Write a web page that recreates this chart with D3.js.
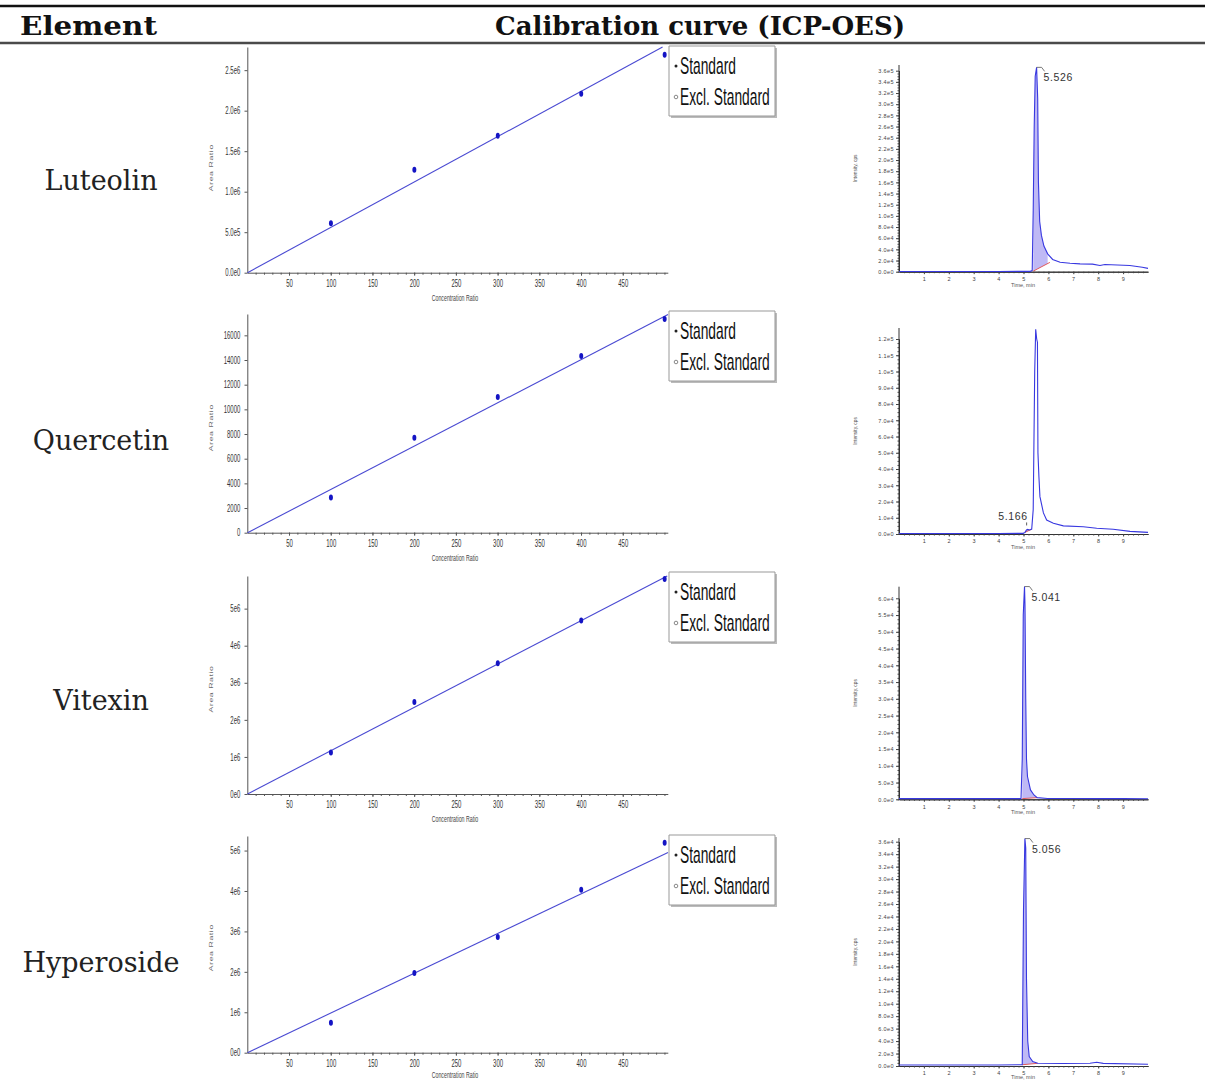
<!DOCTYPE html>
<html>
<head>
<meta charset="utf-8">
<script src="https://cdn.jsdelivr.net/npm/d3@7"></script>
<style>
  body { margin: 0; background: #fff; }
  svg { display: block; }
</style>
</head>
<body>
<svg id="fig" width="1205" height="1081"></svg>
<script>
// ---------------- data ----------------
const compounds = ["Luteolin", "Quercetin", "Vitexin", "Hyperoside"];

// calibration standards
const concentration = [100, 200, 300, 400, 500];
const luteolinArea   = [6.1e5, 1.27e6, 1.69e6, 2.21e6, 2.69e6];
const quercetinArea  = [2850, 7700, 11000, 14330, 17330];
const vitexinArea    = [1.12e6, 2.48e6, 3.53e6, 4.68e6, 5.80e6];
const hyperosideArea = [7.4e5, 1.97e6, 2.86e6, 4.03e6, 5.19e6];
const calibrationAreas = [luteolinArea, quercetinArea, vitexinArea, hyperosideArea];

// slope of each fitted calibration line (through the origin)
const fitSlopes = [5600, 35.1, 11690, 9830];

// calibration axis ticks
const calXTicks = [50, 100, 150, 200, 250, 300, 350, 400, 450];
const luteolinYTicks   = [0, 5e5, 1e6, 1.5e6, 2e6, 2.5e6];
const quercetinYTicks  = [0, 2000, 4000, 6000, 8000, 10000, 12000, 14000, 16000];
const vitexinYTicks    = [0, 1e6, 2e6, 3e6, 4e6, 5e6];
const hyperosideYTicks = [0, 1e6, 2e6, 3e6, 4e6, 5e6];
const calYTicks = [luteolinYTicks, quercetinYTicks, vitexinYTicks, hyperosideYTicks];
const calYFormats = [".1e", "d", ".0e", ".0e"];
const calYMax = [2.786e6, 17730, 5.88e6, 5.36e6];
const calXMax = 504;

const legendLabels = ["Standard", "Excl. Standard"];

// chromatograms: time (min) and intensity (cps)
const luteolinTime = [0, 2, 4, 5.27, 5.35, 5.39, 5.43, 5.47, 5.526, 5.57, 5.6, 5.65, 5.72, 5.82, 5.97, 6.17, 6.47, 6.87, 7.27, 7.77, 8.07, 8.27, 8.77, 9.27, 9.77, 10];
const luteolinCps  = [300, 300, 400, 600, 2000, 1.1e5, 2.6e5, 3.5e5, 3.66e5, 3.1e5, 1.6e5, 9e4, 6.5e4, 4.6e4, 3.2e4, 2.2e4, 1.7e4, 1.5e4, 1.4e4, 1.35e4, 1.1e4, 1.3e4, 1.2e4, 1.1e4, 8e3, 6e3];

const quercetinTime = [0, 2, 4, 4.99, 5.06, 5.12, 5.166, 5.25, 5.33, 5.39, 5.45, 5.49, 5.53, 5.56, 5.58, 5.62, 5.66, 5.8, 5.93, 6.2, 6.6, 7.4, 7.94, 8.6, 9.28, 10];
const quercetinCps  = [300, 300, 350, 400, 1000, 2500, 2800, 2500, 3000, 1.5e4, 1.0e5, 1.26e5, 1.2e5, 1.18e5, 5e4, 3.5e4, 2.3e4, 1.3e4, 8.6e3, 6.6e3, 5e3, 4.5e3, 3.5e3, 2.9e3, 1.6e3, 1e3];

const vitexinTime = [0, 2, 4, 4.9, 4.95, 4.99, 5.041, 5.06, 5.09, 5.12, 5.16, 5.28, 5.42, 5.55, 5.96, 7, 8, 9, 10];
const vitexinCps  = [200, 200, 200, 200, 1.2e4, 5.5e4, 6.35e4, 5.8e4, 3e4, 1.2e4, 6.8e3, 2.8e3, 1.3e3, 500, 250, 250, 200, 200, 150];

const hyperosideTime = [0, 2, 4, 4.95, 5.0, 5.056, 5.09, 5.12, 5.17, 5.23, 5.37, 5.57, 6.6, 7.67, 7.94, 8.2, 10];
const hyperosideCps  = [150, 150, 160, 200, 2.5e4, 3.65e4, 3.5e4, 1.4e4, 4e3, 1.5e3, 700, 430, 400, 450, 600, 420, 280];

const chromTimes = [luteolinTime, quercetinTime, vitexinTime, hyperosideTime];
const chromCps   = [luteolinCps, quercetinCps, vitexinCps, hyperosideCps];

// labelled peaks: retention time text and the integration baseline [t0, cps0, t1, cps1]
const peakLabels = ["5.526", "5.166", "5.041", "5.056"];
const peakTimes  = [5.526, 5.166, 5.041, 5.056];
const integrationBaselines = [
  [5.39, 1000, 6.06, 1.67e4],
  [5.06, 1000, 5.33, 3000],
  [4.95, 200, 5.55, 500],
  [4.95, 200, 5.57, 430]
];

// chromatogram axis ranges
const chromXTicks = [1, 2, 3, 4, 5, 6, 7, 8, 9];
const chromYMax  = [3.6e5, 1.2e5, 6e4, 3.6e4];
const chromYStep = [2e4, 1e4, 5e3, 2e3];

// ---------------- layout ----------------
const pageH = 1081;
const rowLabelY   = [190, 450, 710, 972];
const calAxisY    = [272.7, 532.7, 794, 1052.7];
const calTopY     = [47, 314, 576, 836];
const legendTopY  = [46, 311, 572, 835];
const chromAxisY  = [271.7, 534, 799.3, 1066];
const chromTickTopY = [70.7, 339, 598.3, 841.7];
const chromAxisTopY = [65, 328, 586.7, 838];

const SX = 0.6;              // horizontal compression of the calibration panels
const calLeft = 247.5, calRight = 668;
const innerW = (calRight - calLeft) / SX;

const svg = d3.select("#fig");
const serif = "'DejaVu Serif', 'Liberation Serif', serif";
const sans = "'Liberation Sans', Arial, sans-serif";

// ---------------- table header ----------------
svg.append("line").attr("x1", 0).attr("x2", 1205).attr("y1", 6).attr("y2", 6)
  .attr("stroke", "#111").attr("stroke-width", 2.5);
svg.append("line").attr("x1", 0).attr("x2", 1205).attr("y1", 43).attr("y2", 43)
  .attr("stroke", "#4a4a4a").attr("stroke-width", 2.5);
svg.append("text").attr("x", 88.5).attr("y", 35).attr("text-anchor", "middle")
  .attr("font-family", serif).attr("font-weight", "bold").attr("font-size", 26)
  .attr("textLength", 137).attr("lengthAdjust", "spacingAndGlyphs")
  .attr("fill", "#111").text("Element");
svg.append("text").attr("x", 700).attr("y", 35).attr("text-anchor", "middle")
  .attr("font-family", serif).attr("font-weight", "bold").attr("font-size", 26)
  .attr("textLength", 410).attr("lengthAdjust", "spacingAndGlyphs")
  .attr("fill", "#111").text("Calibration curve (ICP-OES)");

// ---------------- rows ----------------
compounds.forEach((name, i) => {
  svg.append("text").attr("x", 101).attr("y", rowLabelY[i]).attr("text-anchor", "middle")
    .attr("font-family", serif).attr("font-size", 27).attr("fill", "#222").text(name);
  drawCalibration(i);
  drawChromatogram(i);
});

function drawCalibration(i) {
  const g = svg.append("g").attr("transform", `translate(${calLeft},0) scale(${SX},1)`);
  const x = d3.scaleLinear().domain([0, calXMax]).range([0, innerW]);
  const y = d3.scaleLinear().domain([0, calYMax[i]]).range([calAxisY[i], calTopY[i]]);

  // x axis with minor ticks
  const xa = g.append("g").attr("transform", `translate(0,${calAxisY[i]})`)
    .call(d3.axisBottom(x).tickValues(calXTicks).tickSize(3).tickSizeOuter(0).tickPadding(4));
  g.append("g").attr("transform", `translate(0,${calAxisY[i]})`)
    .call(d3.axisBottom(x).tickValues(d3.range(10, calXMax, 10)).tickSize(2).tickSizeOuter(0).tickFormat(""))
    .call(s => s.select(".domain").remove());
  // y axis
  const ya = g.append("g")
    .call(d3.axisLeft(y).tickValues(calYTicks[i])
      .tickFormat(v => d3.format(calYFormats[i])(v).replace("e+", "e"))
      .tickSize(5).tickSizeOuter(0).tickPadding(7));
  [xa, ya].forEach(a => {
    a.selectAll("text").attr("font-family", sans).attr("font-size", 10).attr("fill", "#333");
  });
  g.selectAll(".domain, .tick line").attr("stroke", "#555").attr("vector-effect", "non-scaling-stroke");

  // axis titles
  g.append("text").attr("transform", `translate(${(213 - calLeft) / SX},${calAxisY[i] - 105}) rotate(-90)`)
    .attr("text-anchor", "middle").attr("font-family", sans).attr("font-size", 8.7)
    .attr("letter-spacing", 0.6).attr("fill", "#666").text("Area Ratio");
  g.append("text").attr("x", (455 - calLeft) / SX).attr("y", Math.min(calAxisY[i] + 28, pageH - 3))
    .attr("text-anchor", "middle").attr("font-family", sans).attr("font-size", 8.8)
    .attr("fill", "#444").text("Concentration Ratio");

  // fitted line, clipped at the top of the plot
  const xEnd = Math.min(calXMax, calYMax[i] / fitSlopes[i]);
  g.append("path")
    .attr("d", d3.line()([[x(0), y(0)], [x(xEnd), y(fitSlopes[i] * xEnd)]]))
    .attr("stroke", "#4a4ad2").attr("stroke-width", 1.1).attr("fill", "none")
    .attr("vector-effect", "non-scaling-stroke");

  // standards
  g.selectAll("ellipse.pt").data(concentration).join("ellipse").attr("class", "pt")
    .attr("cx", c => x(c)).attr("cy", (c, k) => y(calibrationAreas[i][k]))
    .attr("rx", 3.3).attr("ry", 3).attr("fill", "#1414c4");

  // legend
  const lx = (669 - calLeft) / SX, lw = (775 - 669) / SX, lt = legendTopY[i], lh = 70;
  g.append("rect").attr("x", lx + 2 / SX).attr("y", lt + 2).attr("width", lw).attr("height", lh)
    .attr("fill", "#bbb");
  g.append("rect").attr("x", lx).attr("y", lt).attr("width", lw).attr("height", lh)
    .attr("fill", "#fff").attr("stroke", "#999").attr("stroke-width", 1)
    .attr("vector-effect", "non-scaling-stroke");
  g.append("ellipse").attr("cx", (676 - calLeft) / SX).attr("cy", lt + 20)
    .attr("rx", 1.5 / SX).attr("ry", 1.5).attr("fill", "#222");
  g.append("ellipse").attr("cx", (676 - calLeft) / SX).attr("cy", lt + 51)
    .attr("rx", 1.8 / SX).attr("ry", 1.8).attr("fill", "none").attr("stroke", "#888")
    .attr("vector-effect", "non-scaling-stroke");
  legendLabels.forEach((t, k) => {
    g.append("text").attr("x", (680 - calLeft) / SX).attr("y", lt + 28 + k * 31)
      .attr("font-family", sans).attr("font-size", 23).attr("fill", "#111").text(t);
  });
}

function drawChromatogram(i) {
  const x = d3.scaleLinear().domain([0, 10]).range([899, 1148]);
  const y = d3.scaleLinear().domain([0, chromYMax[i]]).range([chromAxisY[i], chromTickTopY[i]]);
  const g = svg.append("g");
  const fmt = v => d3.format(".1e")(v).replace("e+", "e");

  // y axis: ruler-like ticks
  g.append("line").attr("x1", 899).attr("x2", 899).attr("y1", chromAxisY[i]).attr("y2", chromAxisTopY[i])
    .attr("stroke", "#333").attr("stroke-width", 1);
  const ya = g.append("g").attr("transform", "translate(899,0)")
    .call(d3.axisLeft(y).tickValues(d3.range(0, chromYMax[i] + chromYStep[i] / 2, chromYStep[i]))
      .tickFormat(fmt).tickSize(3).tickSizeOuter(0).tickPadding(2));
  g.append("g").attr("transform", "translate(899,0)")
    .call(d3.axisLeft(y).tickValues(d3.range(0, chromYMax[i], chromYStep[i] / 4))
      .tickFormat("").tickSize(1.5).tickSizeOuter(0));
  // x axis
  const xa = g.append("g").attr("transform", `translate(0,${chromAxisY[i]})`)
    .call(d3.axisBottom(x).tickValues(chromXTicks).tickSize(2.5).tickSizeOuter(0).tickPadding(3));
  g.append("g").attr("transform", `translate(0,${chromAxisY[i]})`)
    .call(d3.axisBottom(x).tickValues(d3.range(0.2, 10, 0.2)).tickFormat("").tickSize(1.5).tickSizeOuter(0));
  g.selectAll(".domain").attr("stroke", "#333");
  g.selectAll(".tick line").attr("stroke", "#444");
  [xa, ya].forEach(a => a.selectAll("text").attr("font-family", sans).attr("font-size", 5.5)
    .attr("letter-spacing", 0.4).attr("fill", "#444"));

  g.append("text").attr("x", 1023).attr("y", Math.min(chromAxisY[i] + 15, pageH - 2)).attr("text-anchor", "middle")
    .attr("font-family", sans).attr("font-size", 5.5).attr("fill", "#555").text("Time, min");
  g.append("text")
    .attr("transform", `translate(857,${(chromAxisY[i] + chromAxisTopY[i]) / 2}) rotate(-90)`)
    .attr("text-anchor", "middle").attr("font-family", sans).attr("font-size", 4.8)
    .attr("fill", "#555").text("Intensity, cps");

  const pts = chromTimes[i].map((t, k) => [t, chromCps[i][k]]);

  // integrated peak region between signal and baseline
  const [t0, c0, t1, c1] = integrationBaselines[i];
  const base = t => c0 + (c1 - c0) * (t - t0) / (t1 - t0);
  const inside = pts.filter(p => p[0] >= t0 && p[0] <= t1);
  g.append("path").datum(inside)
    .attr("d", d3.area().x(p => x(p[0])).y0(p => y(base(p[0]))).y1(p => y(p[1])))
    .attr("fill", "#aaa2f2").attr("fill-opacity", 0.75);
  g.append("line").attr("x1", x(t0)).attr("y1", y(c0)).attr("x2", x(t1)).attr("y2", y(c1))
    .attr("stroke", "#e04a4a").attr("stroke-width", 0.9);

  // signal trace
  g.append("path").datum(pts)
    .attr("d", d3.line().x(p => x(p[0])).y(p => y(p[1])))
    .attr("fill", "none").attr("stroke", "#3838e0").attr("stroke-width", 1.1);

  // retention-time label
  const k = chromTimes[i].indexOf(peakTimes[i]);
  const ax = x(peakTimes[i]), ay = y(chromCps[i][k]);
  if (i === 1) {
    g.append("line").attr("x1", ax - 1).attr("x2", ax - 1).attr("y1", ay - 7).attr("y2", ay - 4)
      .attr("stroke", "#333").attr("stroke-width", 0.8);
    g.append("text").attr("x", ax).attr("y", ay - 9).attr("text-anchor", "end")
      .attr("font-family", sans).attr("font-size", 10.5).attr("letter-spacing", 0.6)
      .attr("fill", "#333").text(peakLabels[i]);
  } else {
    g.append("path").attr("d", d3.line()([[ax, ay], [ax + 5, ay], [ax + 8, ay + 4]]))
      .attr("fill", "none").attr("stroke", "#555").attr("stroke-width", 0.8);
    g.append("text").attr("x", ax + 7).attr("y", ay + 14)
      .attr("font-family", sans).attr("font-size", 10.5).attr("letter-spacing", 0.6)
      .attr("fill", "#333").text(peakLabels[i]);
  }
}
</script>
</body>
</html>
